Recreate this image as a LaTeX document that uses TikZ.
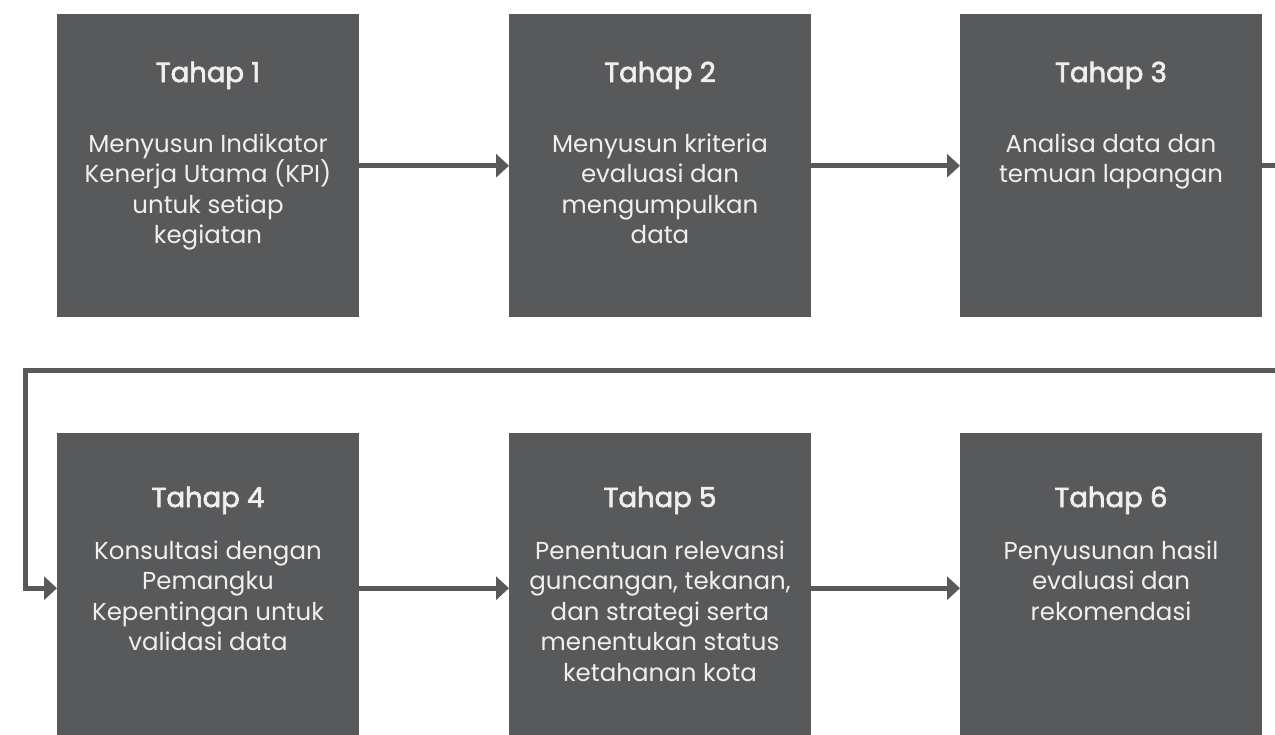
\documentclass[tikz,border=0pt]{standalone}
\usepackage{fontspec}
\setmainfont{Poppins}
\newfontfamily\titlefont[FakeBold=2.5]{Poppins}
\usetikzlibrary{arrows.meta}
\definecolor{boxgray}{HTML}{58595B}
\definecolor{txtwhite}{HTML}{EFEFEF}
\newcommand{\firstline}{\rule{0pt}{20pt}}
\begin{document}
\begin{tikzpicture}[x=1pt,y=-1pt,
  stagebox/.style={fill=boxgray, draw=none, minimum width=302pt, minimum height=303pt, inner sep=0pt, anchor=north west},
  lowbox/.style={stagebox, minimum height=310pt},
  title/.style={text=txtwhite, font=\fontsize{27.5}{30}\selectfont\titlefont, anchor=base, inner sep=0pt},
  body/.style={text=txtwhite, font=\fontsize{24.5}{30.5}\selectfont, align=center, anchor=north, inner sep=0pt},
  conn/.style={draw=boxgray, line width=5pt, -{Triangle[length=13pt,width=23pt]}}]
\clip (0,0) rectangle (1275,734);
\fill[white] (0,0) rectangle (1275,734);
% row 1
\node[stagebox] (b1) at (57,14) {};
\node[stagebox] (b2) at (509,14) {};
\node[stagebox] (b3) at (960,14) {};
% row 2
\node[lowbox] (b4) at (57,433) {};
\node[lowbox] (b5) at (509,433) {};
\node[lowbox] (b6) at (960,433) {};
% titles
\node[title] (t1) at (208,82) {Tahap 1};
\node[title] (t2) at (660,82) {Tahap 2};
\node[title] (t3) at (1111,82) {Tahap 3};
\node[title] (t4) at (208,507) {Tahap 4};
\node[title] (t5) at (660,507) {Tahap 5};
\node[title] (t6) at (1111,507) {Tahap 6};
% bodies
\node[body] (d1) at (208,132) {\firstline Menyusun Indikator\\Kenerja Utama (KPI)\\untuk setiap\\kegiatan};
\node[body] (d2) at (660,132) {\firstline Menyusun kriteria\\evaluasi dan\\mengumpulkan\\data};
\node[body] (d3) at (1111,132) {\firstline Analisa data dan\\temuan lapangan};
\node[body] (d4) at (208,539) {\firstline Konsultasi dengan\\Pemangku\\Kepentingan untuk\\validasi data};
\node[body] (d5) at (660,539) {\firstline Penentuan relevansi\\guncangan, tekanan,\\dan strategi serta\\menentukan status\\ketahanan kota};
\node[body] (d6) at (1111,539) {\firstline Penyusunan hasil\\evaluasi dan\\rekomendasi};
% connectors
\draw[conn] (b1) -- (b2);
\draw[conn] (b2) -- (b3);
\draw[conn] (b3.east) -- ++(40,0) |- (25,370) |- (b4.west);
\draw[conn] (b4) -- (b5);
\draw[conn] (b5) -- (b6);
\end{tikzpicture}
\end{document}
